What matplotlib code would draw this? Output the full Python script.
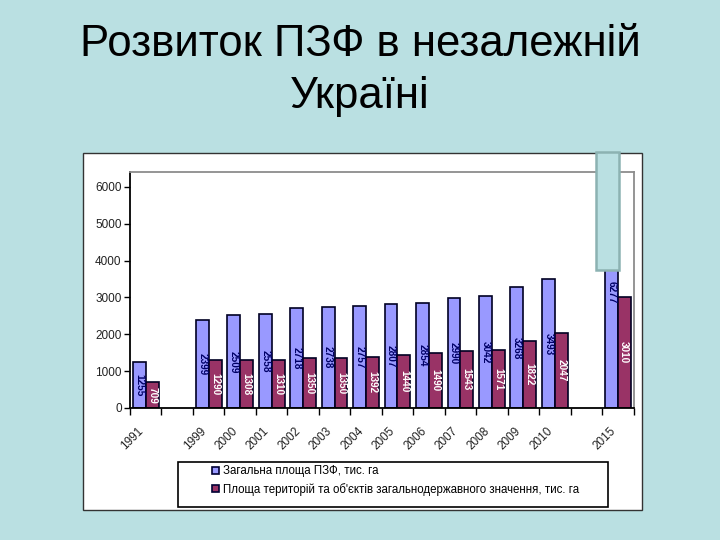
import matplotlib
matplotlib.use("Agg")
import matplotlib.pyplot as plt
from matplotlib.patches import Rectangle, Patch

plt.rcParams['font.family'] = ['Liberation Sans', 'DejaVu Sans']

# categories along the x axis ('' = empty slot in the original chart)
years = ['1991', '', '1999', '2000', '2001', '2002', '2003', '2004', '2005',
         '2006', '2007', '2008', '2009', '2010', '', '2015']
# total area of nature reserve fund, thousand ha
total_area = [1255, None, 2399, 2509, 2558, 2718, 2738, 2757, 2807,
              2854, 2990, 3042, 3268, 3493, None, 6277]
# area of objects of national importance, thousand ha
national_area = [709, None, 1290, 1308, 1310, 1350, 1350, 1392, 1440,
                 1490, 1543, 1571, 1822, 2047, None, 3010]

series_names = ['Загальна площа ПЗФ, тис. га',
                'Площа територій та об\'єктів загальнодержавного значення, тис. га']
y_ticks = [0, 1000, 2000, 3000, 4000, 5000, 6000]

BG = '#bae0e2'
BLUE = '#9999ff'
RED = '#993366'
W, H = 720, 540


def fx(px):
    return px / W


def fy(py):
    return 1 - py / H


fig = plt.figure(figsize=(7.2, 5.4), dpi=100)
fig.patch.set_facecolor(BG)

# title
fig.text(0.5, fy(56), 'Розвиток ПЗФ в незалежній', ha='center', va='baseline',
         fontsize=31.5, color='black')
fig.text(0.5, fy(108), 'Україні', ha='center', va='baseline',
         fontsize=31.5, color='black')

# white chart area
fig.patches.append(Rectangle((fx(83), fy(510)), fx(642) - fx(83), fy(153) - fy(510),
                             transform=fig.transFigure, facecolor='white',
                             edgecolor='#333333', lw=1.0, zorder=-1))

ax = fig.add_axes([fx(130), fy(408), fx(633.5) - fx(130), fy(172) - fy(408)])
ax.set_facecolor('white')

bw = 0.41
for i, (a, b) in enumerate(zip(total_area, national_area)):
    if a is None:
        continue
    ax.bar(i - bw / 2, a, width=bw, color=BLUE, edgecolor='#000022', lw=1.2, zorder=2)
    ax.bar(i + bw / 2, b, width=bw, color=RED, edgecolor='#000022', lw=1.2, zorder=2)
    ax.text(i - bw / 2, a / 2, str(a), rotation=-90, ha='center', va='center',
            fontsize=7.2, fontweight='bold', color='#000066', zorder=3)
    ax.text(i + bw / 2, b / 2, str(b), rotation=-90, ha='center', va='center',
            fontsize=7.2, fontweight='bold', color='white', zorder=3)

ax.set_xlim(-0.5, len(years) - 0.5)
ax.set_ylim(0, 6400)
ax.set_yticks(y_ticks)
ax.set_yticklabels([str(t) for t in y_ticks], fontsize=8.5, color='#222222')
ax.tick_params(axis='y', direction='out', length=4, width=1, pad=2)

ax.set_xticks([i - 0.5 for i in range(len(years) + 1)])
ax.set_xticklabels([])
ax.tick_params(axis='x', which='major', direction='out', length=5, width=1)
ax.set_xticks(range(len(years)), minor=True)
ax.set_xticklabels(years, minor=True, rotation=45, ha='right', va='top',
                   fontsize=8.5, color='#222222')
ax.tick_params(axis='x', which='minor', length=0, pad=12)

for s in ['left', 'bottom']:
    ax.spines[s].set_color('black')
    ax.spines[s].set_linewidth(1.3)
for s in ['top', 'right']:
    ax.spines[s].set_color('#8c8c8c')
    ax.spines[s].set_linewidth(1.3)

# legend box
fig.patches.append(Rectangle((fx(178), fy(507)), fx(608) - fx(178), fy(462) - fy(507),
                             transform=fig.transFigure, facecolor='white',
                             edgecolor='black', lw=1.2, zorder=1))
handles = [Patch(facecolor=BLUE, edgecolor='#000033', lw=1.2),
           Patch(facecolor=RED, edgecolor='#000033', lw=1.2)]
fig.legend(handles, series_names, loc='upper left',
           bbox_to_anchor=(fx(210), fy(463)), frameon=False, fontsize=8.3,
           handlelength=0.55, handleheight=0.55, handletextpad=0.35,
           labelspacing=0.5, borderaxespad=0, borderpad=0.2)

# teal block covering the top of the 2015 bar
fig.patches.append(Rectangle((fx(596), fy(270)), fx(619) - fx(596), fy(152) - fy(270),
                             transform=fig.transFigure, facecolor=BG,
                             edgecolor='#8cb2b2', lw=1.8, zorder=5))

fig.savefig('out.png', dpi=100, facecolor=BG)
